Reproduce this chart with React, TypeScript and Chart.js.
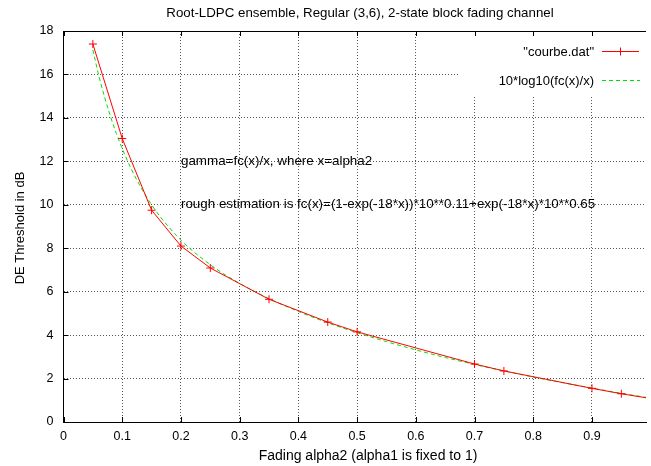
import React, { useEffect, useRef } from "react";
import { Chart, registerables } from "chart.js";

Chart.register(...registerables);

const TITLE = "Root-LDPC ensemble, Regular (3,6), 2-state block fading channel";
const X_TITLE = "Fading alpha2 (alpha1 is fixed to 1)";
const Y_TITLE = "DE Threshold in dB";
const LABEL_RED = "\"courbe.dat\"";
const LABEL_GREEN = "10*log10(fc(x)/x)";
const NOTE_1 = "gamma=fc(x)/x, where x=alpha2";
const NOTE_2 = "rough estimation is fc(x)=(1-exp(-18*x))*10**0.11+exp(-18*x)*10**0.65";
const NOTE_X = 0.2;
const NOTE_1_Y = 12;
const NOTE_2_Y = 10;

const redX = [0.05, 0.1, 0.15, 0.2, 0.25, 0.35, 0.45, 0.5, 0.7, 0.75, 0.9, 0.95, 1.0];
const redY = [17.4, 13.05, 9.75, 8.1, 7.09, 5.65, 4.6, 4.15, 2.67, 2.35, 1.55, 1.3, 1.08];

const greenX = [0.05, 0.06, 0.07, 0.08, 0.09, 0.1, 0.115, 0.13, 0.14, 0.15, 0.165, 0.2, 0.25, 0.3, 0.35, 0.4, 0.45, 0.5, 0.55, 0.6, 0.65, 0.7, 0.75, 0.8, 0.85, 0.9, 0.95, 1.0];
const greenY = [17.13, 15.96, 14.95, 14.07, 13.28, 12.59, 11.67, 10.89, 10.43, 10.0, 9.44, 8.37, 7.24, 6.38, 5.68, 5.09, 4.57, 4.11, 3.7, 3.32, 2.97, 2.65, 2.35, 2.07, 1.81, 1.56, 1.32, 1.1];

const X_MIN = 0;
const X_MAX = 0.992;
const Y_MIN = 0;
const Y_MAX = 18;

const RED = "#ff0000";
const GREEN = "#00e000";
const FAMILY = "'Liberation Sans', Arial, Helvetica, sans-serif";
const FONT = "13px " + FAMILY;
const TITLE_FONT = "13.3px " + FAMILY;
const XTITLE_FONT = "14px " + FAMILY;
const NOTE_FONT = "13.4px " + FAMILY;

const overlay = {
  id: "overlay",
  beforeDatasetsDraw(chart: any) {
    const ctx = chart.ctx;
    ctx.save();
    ctx.fillStyle = "#ffffff";
    ctx.fillRect(460, 33, 191, 64);
    ctx.restore();
  },
  afterDraw(chart: any) {
    const ctx = chart.ctx;
    const a = chart.chartArea;
    const xs = chart.scales.x;
    const ys = chart.scales.y;
    ctx.save();
    // top border
    ctx.strokeStyle = "#000";
    ctx.lineWidth = 1;
    ctx.beginPath();
    ctx.moveTo(a.left, Math.round(a.top) + 0.5);
    ctx.lineTo(a.right, Math.round(a.top) + 0.5);
    ctx.stroke();
    // inward tick marks
    ctx.beginPath();
    xs.ticks.forEach((t: any) => {
      const px = Math.round(xs.getPixelForValue(t.value)) + 0.5;
      ctx.moveTo(px, a.bottom);
      ctx.lineTo(px, a.bottom - 5);
      ctx.moveTo(px, a.top);
      ctx.lineTo(px, a.top + 5);
    });
    ys.ticks.forEach((t: any) => {
      const py = Math.round(ys.getPixelForValue(t.value)) + 0.5;
      ctx.moveTo(a.left, py);
      ctx.lineTo(a.left + 5, py);
    });
    ctx.stroke();

    ctx.fillStyle = "#000";
    // title
    ctx.font = TITLE_FONT;
    ctx.textAlign = "center";
    ctx.textBaseline = "middle";
    ctx.fillText(TITLE, 360, 13);
    // x title
    ctx.font = XTITLE_FONT;
    ctx.fillText(X_TITLE, 368, 456);
    // y title
    ctx.font = FONT;
    ctx.save();
    ctx.translate(20, 228);
    ctx.rotate(-Math.PI / 2);
    ctx.fillText(Y_TITLE, 0, 0);
    ctx.restore();

    // notes
    ctx.font = NOTE_FONT;
    ctx.textAlign = "left";
    ctx.fillText(NOTE_1, xs.getPixelForValue(NOTE_X), ys.getPixelForValue(NOTE_1_Y));
    ctx.fillText(NOTE_2, xs.getPixelForValue(NOTE_X), ys.getPixelForValue(NOTE_2_Y));

    // legend
    ctx.font = FONT;
    ctx.textAlign = "right";
    ctx.fillText(LABEL_RED, 594, 52);
    ctx.fillText(LABEL_GREEN, 594, 81);
    ctx.strokeStyle = RED;
    ctx.lineWidth = 1;
    ctx.beginPath();
    ctx.moveTo(602, 51.5);
    ctx.lineTo(639, 51.5);
    ctx.moveTo(620.5, 47.5);
    ctx.lineTo(620.5, 55.5);
    ctx.stroke();
    ctx.strokeStyle = GREEN;
    ctx.setLineDash([4, 3]);
    ctx.beginPath();
    ctx.moveTo(602, 80.5);
    ctx.lineTo(640, 80.5);
    ctx.stroke();
    ctx.restore();
  },
};

export default function App() {
  const ref = useRef<HTMLCanvasElement>(null);
  useEffect(() => {
    document.body.style.margin = "0";
    const canvas = ref.current!;
    const chart = new Chart(canvas, {
      type: "scatter",
      data: {
        datasets: [
          {
            label: LABEL_RED,
            data: redX.map((x, i) => ({ x, y: redY[i] })),
            showLine: true,
            borderColor: RED,
            backgroundColor: RED,
            borderWidth: 1,
            pointStyle: "cross",
            pointRadius: 4,
            pointBorderWidth: 1,
            pointBorderColor: RED,
            order: 1,
          },
          {
            label: LABEL_GREEN,
            data: greenX.map((x, i) => ({ x, y: greenY[i] })),
            showLine: true,
            borderColor: GREEN,
            backgroundColor: GREEN,
            borderWidth: 1,
            borderDash: [4, 3],
            pointRadius: 0,
            cubicInterpolationMode: "monotone",
            order: 2,
          },
        ],
      },
      options: {
        responsive: false,
        animation: false,
        devicePixelRatio: 1,
        layout: { padding: { top: 31, left: 0, right: 0, bottom: 0 } },
        plugins: {
          legend: { display: false },
          title: { display: false },
          tooltip: { enabled: false },
        },
        scales: {
          x: {
            type: "linear",
            min: X_MIN,
            max: X_MAX,
            afterFit: (s: any) => {
              s.height = 44;
            },
            ticks: {
              stepSize: 0.1,
              includeBounds: false,
              padding: 7,
              color: "#000",
              font: { family: FAMILY, size: 12.5 },
              maxRotation: 0,
              autoSkip: false,
              callback: (v: any) => String(Number(Number(v).toFixed(1))),
            },
            grid: {
              color: "#555",
              lineWidth: 1,
              drawTicks: false,
            },
            border: { display: true, color: "#000", width: 1, dash: [1, 2] },
          },
          y: {
            type: "linear",
            min: Y_MIN,
            max: Y_MAX,
            afterFit: (s: any) => {
              s.width = 63.5;
            },
            ticks: {
              stepSize: 2,
              padding: 10,
              color: "#000",
              font: { family: FAMILY, size: 12.5 },
            },
            grid: {
              color: "#555",
              lineWidth: 1,
              drawTicks: false,
            },
            border: { display: true, color: "#000", width: 1, dash: [1, 2] },
          },
        },
      },
      plugins: [overlay],
    } as any);
    return () => chart.destroy();
  }, []);
  return (
    <div style={{ width: 651, height: 466 }}>
      <canvas ref={ref} width={651} height={466} style={{ width: 651, height: 466, display: "block" }} />
    </div>
  );
}
